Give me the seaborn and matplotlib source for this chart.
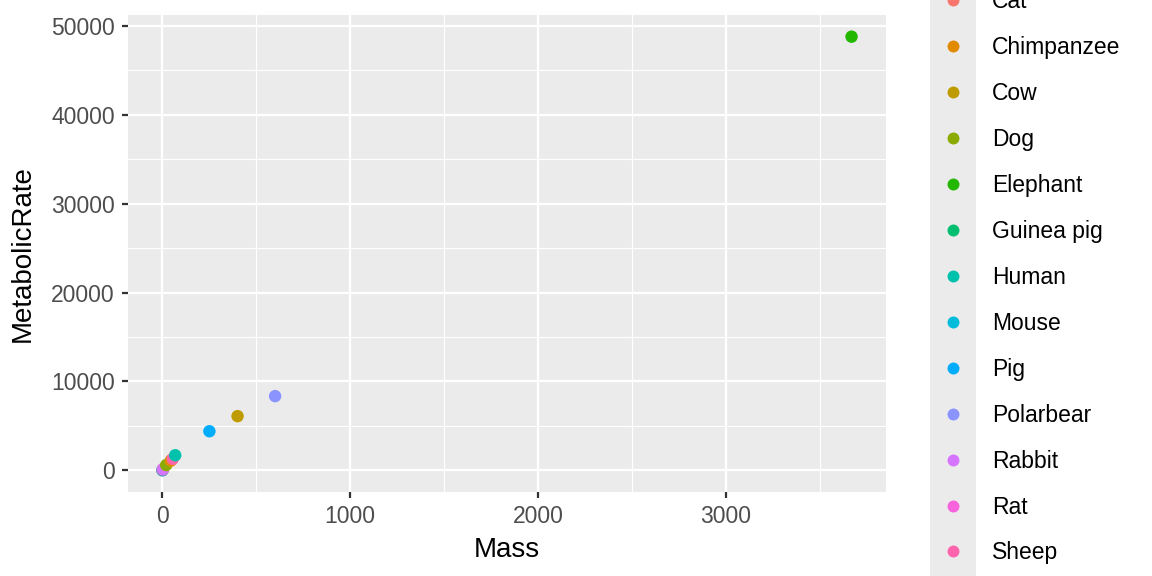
import matplotlib
matplotlib.use('Agg')
import matplotlib.pyplot as plt
import seaborn as sns
import pandas as pd
from matplotlib.lines import Line2D
from matplotlib.patches import Rectangle
from matplotlib.ticker import MultipleLocator

# data (Mass in kg, MetabolicRate in kcal/day)
animals = ['Mouse', 'Rat', 'Guinea pig', 'Cat', 'Rabbit', 'Dog', 'Chimpanzee',
           'Sheep', 'Human', 'Pig', 'Cow', 'Polarbear', 'Elephant']
mass = [0.02, 0.3, 0.7, 3.0, 2.0, 20, 45, 55, 68, 250, 400, 600, 3670]
metabolic_rate = [3.4, 28, 48, 150, 106, 600, 1100, 1300, 1700, 4400, 6100, 8350, 48800]

legend_order = ['Cat', 'Chimpanzee', 'Cow', 'Dog', 'Elephant', 'Guinea pig', 'Human',
                'Mouse', 'Pig', 'Polarbear', 'Rabbit', 'Rat', 'Sheep']
palette = ['#F8766D', '#E18A00', '#BE9C00', '#8CAB00', '#24B700', '#00BE70', '#00C1AB',
           '#00BBDA', '#00ACFC', '#8B93FF', '#D575FE', '#F962DD', '#FF65AC']

df = pd.DataFrame({'Animal': animals, 'Mass': mass, 'MetabolicRate': metabolic_rate})

plt.rcParams['font.family'] = ['Liberation Sans', 'DejaVu Sans']

fig = plt.figure(figsize=(11.52, 5.76), dpi=100)
ax = fig.add_axes([128 / 1152, 1 - 492 / 576, (886 - 128) / 1152, (492 - 15) / 576])
ax.set_facecolor('#EBEBEB')

sns.scatterplot(data=df, x='Mass', y='MetabolicRate', hue='Animal', hue_order=legend_order,
                palette=palette, s=80, linewidth=0, ax=ax, legend=False, zorder=3)

# ggplot-like expansion of 5%
xr = max(mass) - min(mass)
yr = max(metabolic_rate) - min(metabolic_rate)
ax.set_xlim(min(mass) - 0.05 * xr, max(mass) + 0.05 * xr)
ax.set_ylim(min(metabolic_rate) - 0.05 * yr, max(metabolic_rate) + 0.05 * yr)

ax.xaxis.set_major_locator(MultipleLocator(1000))
ax.xaxis.set_minor_locator(MultipleLocator(500))
ax.yaxis.set_major_locator(MultipleLocator(10000))
ax.yaxis.set_minor_locator(MultipleLocator(5000))
ax.grid(which='major', color='white', linewidth=1.6, zorder=0)
ax.grid(which='minor', color='white', linewidth=0.8, zorder=0)
ax.set_axisbelow(True)
for sp in ax.spines.values():
    sp.set_visible(False)
ax.tick_params(which='major', length=4.5, width=1.6, color='#333333', labelcolor='#4D4D4D',
               labelsize=16.5, pad=5)
ax.tick_params(which='minor', length=0)
ax.set_xlabel('Mass', fontsize=20, labelpad=6)
ax.set_ylabel('MetabolicRate', fontsize=20, labelpad=11)

# legend with grey key column, overflowing the figure like the reference
fig.patches.append(Rectangle((930 / 1152, 0), 46 / 1152, 1, transform=fig.transFigure,
                             facecolor='#EBEBEB', edgecolor='none', zorder=0))
handles = [Line2D([], [], marker='o', linestyle='none', markersize=8.6,
                  markerfacecolor=c, markeredgewidth=0) for c in palette]
leg = fig.legend(handles, legend_order, title='Animal', loc='lower left',
                 bbox_to_anchor=(941.5 / 1152, 11.5 / 576), frameon=False, fontsize=16.5,
                 title_fontsize=20, labelspacing=1.0, handlelength=1.0,
                 handletextpad=1.2, borderpad=0, borderaxespad=0)
leg._legend_box.align = 'left'

fig.savefig('out.png', dpi=100)
